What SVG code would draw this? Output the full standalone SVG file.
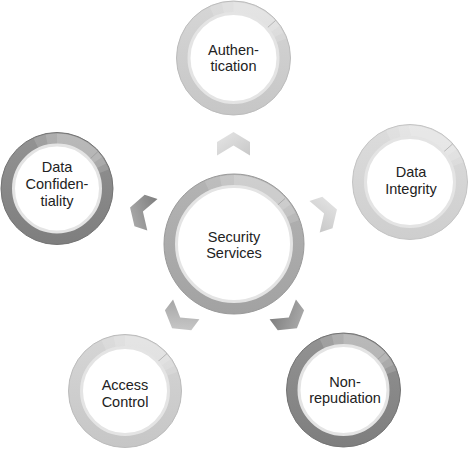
<svg xmlns="http://www.w3.org/2000/svg" width="468" height="450" viewBox="0 0 468 450">
<defs>
<linearGradient id="gLight" x1="0" y1="0" x2="0" y2="1"><stop offset="0" stop-color="#d6d6d6"/><stop offset="1" stop-color="#c6c6c6"/></linearGradient>
<linearGradient id="gLighter" x1="0" y1="0" x2="0" y2="1"><stop offset="0" stop-color="#dcdcdc"/><stop offset="1" stop-color="#cecece"/></linearGradient>
<linearGradient id="gMid" x1="0" y1="0" x2="0" y2="1"><stop offset="0" stop-color="#b4b4b4"/><stop offset="1" stop-color="#a2a2a2"/></linearGradient>
<linearGradient id="gDark" x1="0" y1="0" x2="0" y2="1"><stop offset="0" stop-color="#939393"/><stop offset="1" stop-color="#7e7e7e"/></linearGradient>
<linearGradient id="cLight" x1="0" y1="0" x2="1" y2="1"><stop offset="0" stop-color="#e6e6e6"/><stop offset="1" stop-color="#c8c8c8"/></linearGradient>
<linearGradient id="cMid" x1="0" y1="0" x2="1" y2="1"><stop offset="0" stop-color="#cfcfcf"/><stop offset="1" stop-color="#a6a6a6"/></linearGradient>
<linearGradient id="cDark" x1="0" y1="0" x2="1" y2="1"><stop offset="0" stop-color="#b2b2b2"/><stop offset="1" stop-color="#7e7e7e"/></linearGradient>
<polygon id="chev" points="-16.5,-1.5 0,-11.5 16.5,-1.5 16.5,12 0,2 -16.5,12"/>
</defs>
<style>
.inner{fill:#ffffff;stroke:#e4e4e4;stroke-width:3}
.edge{stroke-width:1}
.hl{fill:none;stroke:#ffffff;stroke-opacity:0.14;stroke-width:11}
.h1{stroke-dasharray:95 265}
.h2{stroke-dasharray:75 285}
.h3{stroke-dasharray:55 305}
.crease{stroke:#8a8a8a;stroke-opacity:0.5;stroke-width:1}
text{font-family:"Liberation Sans",Arial,Helvetica,sans-serif;font-size:14.5px;fill:#222222;text-anchor:middle}
</style>

<g id="connectors">
<use href="#chev" fill="url(#cLight)" transform="translate(233.5,143.5)"/>
<use href="#chev" fill="url(#cDark)" transform="translate(141,211) rotate(-72)"/>
<use href="#chev" fill="url(#cLight)" transform="translate(326,213) rotate(72)"/>
<use href="#chev" fill="url(#cMid)" transform="translate(179,319) rotate(217)"/>
<use href="#chev" fill="url(#cDark)" transform="translate(290,319) rotate(143)"/>
</g>

<g id="security-services">
<circle cx="234" cy="244" r="70" fill="url(#gMid)" stroke="#9a9a9a" class="edge"/>
<g transform="translate(234,244)">
<circle r="63.5" pathLength="360" class="hl h1" transform="rotate(-115)"/>
<circle r="63.5" pathLength="360" class="hl h2" transform="rotate(-102)"/>
<circle r="63.5" pathLength="360" class="hl h3" transform="rotate(-90)"/>
</g>
<line x1="276.5" y1="206" x2="285" y2="198.5" class="crease"/>
<circle cx="234" cy="244" r="57.5" class="inner"/>
<text x="234" y="242">Security</text>
<text x="234" y="258">Services</text>
</g>

<g id="authentication">
<circle cx="233.5" cy="58" r="57" fill="url(#gLight)" stroke="#bcbcbc" class="edge"/>
<g transform="translate(233.5,58)">
<circle r="50.5" pathLength="360" class="hl h1" transform="rotate(-115)"/>
<circle r="50.5" pathLength="360" class="hl h2" transform="rotate(-102)"/>
<circle r="50.5" pathLength="360" class="hl h3" transform="rotate(-90)"/>
</g>
<line x1="266.5" y1="28.5" x2="275.5" y2="20.5" class="crease"/>
<circle cx="233.5" cy="58" r="44.5" class="inner"/>
<text x="233.5" y="55">Authen-</text>
<text x="233.5" y="71">tication</text>
</g>

<g id="data-confidentiality">
<circle cx="57" cy="188.5" r="56" fill="url(#gDark)" stroke="#747474" class="edge"/>
<g transform="translate(57,188.5)">
<circle r="49.5" pathLength="360" class="hl h1" transform="rotate(-115)"/>
<circle r="49.5" pathLength="360" class="hl h2" transform="rotate(-102)"/>
<circle r="49.5" pathLength="360" class="hl h3" transform="rotate(-90)"/>
</g>
<line x1="89.5" y1="159.5" x2="98" y2="151.5" class="crease"/>
<circle cx="57" cy="188.5" r="43.5" class="inner"/>
<text x="57" y="172">Data</text>
<text x="57" y="189">Confiden-</text>
<text x="57" y="206">tiality</text>
</g>

<g id="data-integrity">
<circle cx="410" cy="182" r="57.5" fill="url(#gLighter)" stroke="#c4c4c4" class="edge"/>
<g transform="translate(410,182)">
<circle r="51" pathLength="360" class="hl h1" transform="rotate(-115)"/>
<circle r="51" pathLength="360" class="hl h2" transform="rotate(-102)"/>
<circle r="51" pathLength="360" class="hl h3" transform="rotate(-90)"/>
</g>
<line x1="443" y1="152.5" x2="452.5" y2="144" class="crease"/>
<circle cx="410" cy="182" r="44.5" class="inner"/>
<text x="411" y="177">Data</text>
<text x="411" y="194">Integrity</text>
</g>

<g id="access-control">
<circle cx="125" cy="391" r="56.5" fill="url(#gLight)" stroke="#bcbcbc" class="edge"/>
<g transform="translate(125,391)">
<circle r="50" pathLength="360" class="hl h1" transform="rotate(-115)"/>
<circle r="50" pathLength="360" class="hl h2" transform="rotate(-102)"/>
<circle r="50" pathLength="360" class="hl h3" transform="rotate(-90)"/>
</g>
<line x1="158" y1="361.5" x2="167" y2="353.5" class="crease"/>
<circle cx="125" cy="391" r="43.5" class="inner"/>
<text x="125" y="390">Access</text>
<text x="125" y="407">Control</text>
</g>

<g id="non-repudiation">
<circle cx="343.5" cy="390" r="57" fill="url(#gDark)" stroke="#747474" class="edge"/>
<g transform="translate(343.5,390)">
<circle r="50.5" pathLength="360" class="hl h1" transform="rotate(-115)"/>
<circle r="50.5" pathLength="360" class="hl h2" transform="rotate(-102)"/>
<circle r="50.5" pathLength="360" class="hl h3" transform="rotate(-90)"/>
</g>
<line x1="376.5" y1="360.5" x2="385.5" y2="352.5" class="crease"/>
<circle cx="343.5" cy="390" r="44.5" class="inner"/>
<text x="345" y="386.5">Non-</text>
<text x="345" y="403">repudiation</text>
</g>
</svg>
